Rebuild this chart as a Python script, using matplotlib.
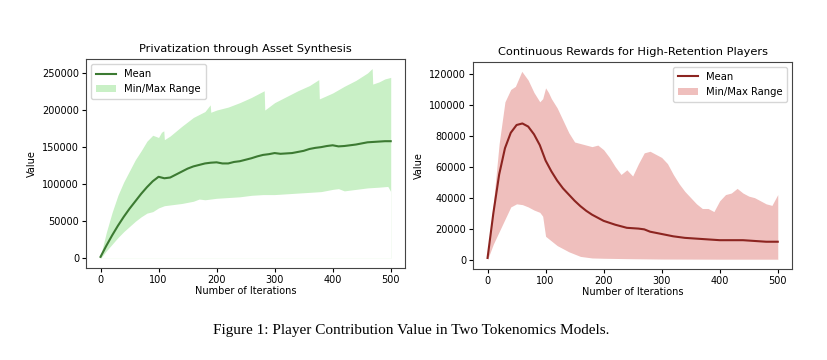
import matplotlib.pyplot as plt

# --- Privatization through Asset Synthesis ---
asset_mean_x = [0, 10, 20, 30, 40, 50, 60, 70, 80, 90, 100, 110, 120, 130, 140, 150,
                160, 170, 180, 190, 200, 210, 220, 230, 240, 250, 260, 270, 280, 290,
                300, 310, 320, 330, 340, 350, 360, 370, 380, 390, 400, 410, 420, 430,
                440, 450, 460, 470, 480, 490, 500]
asset_mean = [2000, 17000, 31000, 44000, 56000, 67000, 77000, 87000, 96000, 104000,
              110000, 108000, 109000, 113000, 117000, 121000, 124000, 126000, 128000,
              129000, 129500, 128000, 128000, 130000, 131000, 133000, 135000, 137500,
              139500, 140500, 142000, 141000, 141500, 142000, 143500, 145000, 147500,
              149000, 150000, 151500, 152500, 151000, 151500, 152500, 153500, 155000,
              156500, 157000, 157500, 158000, 158000]

asset_max_x = [0, 10, 20, 30, 40, 50, 60, 70, 80, 90, 100, 105, 109, 110, 120, 140,
               160, 180, 189, 190, 200, 220, 240, 260, 282, 283, 300, 320, 340, 360,
               376, 377, 400, 420, 440, 460, 468, 469, 480, 490, 500]
asset_max = [3000, 35000, 62000, 85000, 103000, 118000, 133000, 145000, 158000, 166000,
             163000, 170000, 172000, 160000, 165000, 178000, 190000, 198000, 207000,
             197000, 200000, 204000, 210000, 217000, 226000, 200000, 210000, 218000,
             226000, 233000, 241000, 215000, 223000, 232000, 240000, 250000, 256000,
             235000, 238000, 242000, 244000]

asset_min_x = [0, 10, 20, 30, 40, 50, 60, 70, 80, 90, 100, 110, 120, 140, 160, 170,
               180, 200, 220, 240, 260, 280, 300, 320, 340, 360, 380, 400, 410, 420,
               440, 460, 480, 495, 500]
asset_min = [0, 10000, 19000, 28000, 36000, 43000, 50000, 56000, 61000, 63000, 68000,
             71000, 72000, 74000, 77000, 80000, 79000, 81000, 82000, 83000, 85000,
             86000, 86000, 87000, 88000, 89000, 90000, 93000, 94000, 91000, 93000,
             95000, 96000, 97000, 90000]

# --- Continuous Rewards for High-Retention Players ---
reward_mean_x = [0, 10, 20, 30, 40, 50, 60, 70, 80, 90, 100, 110, 120, 130, 140, 150,
                 160, 170, 180, 190, 200, 220, 240, 260, 270, 280, 300, 320, 340, 360,
                 380, 400, 420, 440, 460, 480, 500]
reward_mean = [1000, 30000, 55000, 72000, 82000, 87000, 88000, 86000, 81000, 74000,
               64000, 57000, 51000, 46000, 42000, 38000, 34500, 31500, 29000, 27000,
               25000, 22500, 20500, 20000, 19500, 18000, 16500, 15000, 14000, 13500,
               13000, 12500, 12500, 12500, 12000, 11500, 11500]

reward_max_x = [0, 10, 20, 30, 40, 48, 59, 70, 80, 90, 95, 100, 105, 110, 120, 130,
                140, 150, 160, 170, 180, 190, 200, 210, 220, 230, 240, 250, 260, 270,
                280, 290, 300, 310, 320, 330, 340, 350, 360, 370, 380, 390, 400, 410,
                420, 430, 440, 450, 460, 470, 480, 490, 500]
reward_max = [2000, 36000, 75000, 102000, 110000, 112000, 121700, 116000, 108000,
              102000, 104000, 111000, 108000, 104000, 98000, 90000, 82000, 76000,
              75000, 74000, 73000, 74000, 71000, 66000, 60000, 55000, 58000, 54000,
              62000, 69000, 70000, 68000, 66000, 62000, 55000, 49000, 44000, 40000,
              36000, 33000, 33000, 31000, 38000, 42000, 43000, 46000, 43000, 41000,
              40000, 38000, 36000, 35000, 42000]

reward_min_x = [0, 10, 20, 30, 40, 50, 60, 70, 80, 90, 95, 100, 110, 120, 130, 140,
                150, 160, 170, 180, 200, 250, 300, 400, 500]
reward_min = [0, 10000, 18000, 26000, 34000, 36000, 35500, 34000, 32000, 30500, 28000,
              15000, 12000, 9000, 7000, 5000, 3500, 2000, 1500, 1000, 800, 500, 300,
              200, 200]

fig = plt.figure(figsize=(8.27, 3.6), dpi=100)
ax1 = fig.add_axes([0.104, 0.256, 0.386, 0.580])
ax2 = fig.add_axes([0.572, 0.253, 0.386, 0.575])

panels = [
    (ax1, asset_max_x, asset_max, asset_min_x, asset_min, asset_mean_x, asset_mean,
     '#c9f0c6', '#3c7a32', 'Privatization through Asset Synthesis', 'upper left'),
    (ax2, reward_max_x, reward_max, reward_min_x, reward_min, reward_mean_x, reward_mean,
     '#efbfbd', '#8c2420', 'Continuous Rewards for High-Retention Players', 'upper right'),
]

for ax, mx, my, nx, ny, ex, ey, fill_c, line_c, title, loc in panels:
    # max edge filled down, min edge blanked out in white
    ax.fill_between(mx, my, color=fill_c, lw=0)
    ax.fill_between(nx, ny, color='white', lw=0)
    band = ax.fill_between([], [], color=fill_c, lw=0, label='Min/Max Range')
    line, = ax.plot(ex, ey, color=line_c, lw=1.5, label='Mean')
    ax.set_title(title, fontsize=8.2, pad=5)
    ax.legend(handles=[line, band], loc=loc, fontsize=7.2, borderpad=0.5)
    ax.set_xlabel('Number of Iterations', fontsize=7, labelpad=1)
    ax.set_ylabel('Value', fontsize=7)
    ax.tick_params(labelsize=7, length=3, pad=2)
    ax.set_xticks([0, 100, 200, 300, 400, 500])
    ax.set_xlim(-25, 525)
    for s in ax.spines.values():
        s.set_color('#444444')

ax1.set_ylim(-12800, 268800)
ax2.set_ylim(-6085, 127800)

fig.text(0.497, 0.083, 'Figure 1: Player Contribution Value in Two Tokenomics Models.',
         ha='center', va='center', family='Liberation Serif', fontsize=11)

fig.savefig('out.png', dpi=100)
